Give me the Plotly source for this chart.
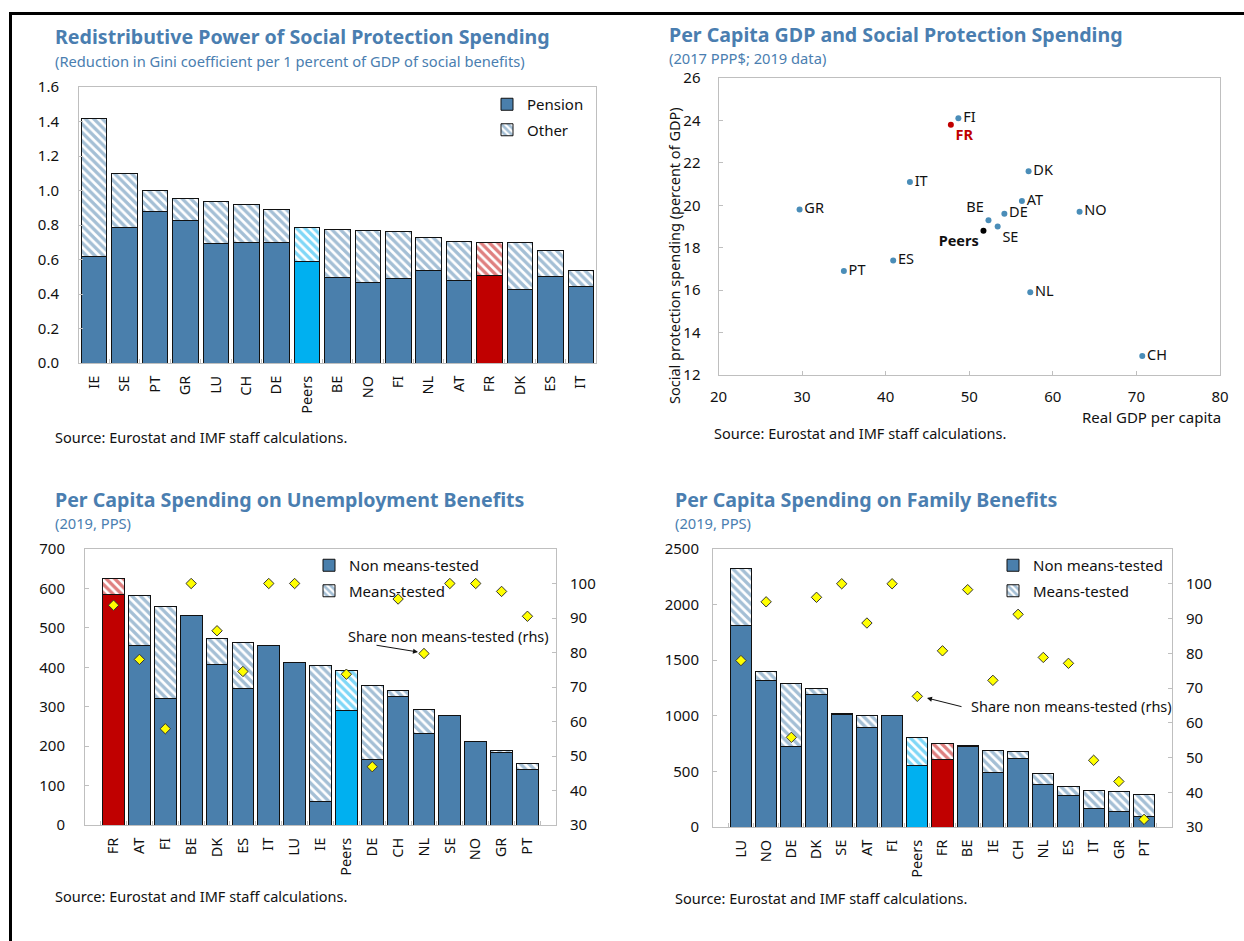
import plotly.graph_objects as go

W, H = 1244, 941

BLUE = "#4A7FAC"
PEER = "#00B0F0"
FRC = "#C00000"
DOT = "#4A8DB8"
TITLE_C = "#4A7EB0"
FONT = "Segoe UI, Noto Sans, sans-serif"

# ── data ─────────────────────────────────────────────────────────────────
gini_cty = ["IE", "SE", "PT", "GR", "LU", "CH", "DE", "Peers", "BE",
            "NO", "FI", "NL", "AT", "FR", "DK", "ES", "IT"]
gini_pension = [0.617, 0.785, 0.879, 0.827, 0.694, 0.700, 0.700, 0.590, 0.493,
                0.466, 0.490, 0.536, 0.480, 0.507, 0.426, 0.499, 0.445]
gini_other = [0.798, 0.312, 0.121, 0.129, 0.245, 0.216, 0.189, 0.198, 0.280,
              0.305, 0.270, 0.193, 0.222, 0.191, 0.272, 0.151, 0.089]

sc_cty = ["FI", "FR", "DK", "IT", "AT", "GR", "NO", "DE", "BE", "SE",
          "Peers", "ES", "PT", "NL", "CH"]
sc_gdp = [48.7, 47.8, 57.1, 42.9, 56.3, 29.7, 63.2, 54.2, 52.3, 53.4,
          51.7, 40.9, 35.0, 57.3, 70.7]
sc_spend = [24.1, 23.8, 21.6, 21.1, 20.2, 19.8, 19.7, 19.6, 19.3, 19.0,
            18.8, 17.4, 16.9, 15.9, 12.9]
sc_pos = ["middle right", "bottom right", "middle right", "middle right",
          "middle right", "middle right", "middle right", "middle right",
          "top left", "bottom right", "bottom left", "middle right",
          "middle right", "middle right", "middle right"]

un_cty = ["FR", "AT", "FI", "BE", "DK", "ES", "IT", "LU", "IE", "Peers",
          "DE", "CH", "NL", "SE", "NO", "GR", "PT"]
un_non = [585, 456, 320, 532, 408, 345, 454, 413, 60, 290,
          167, 325, 233, 277, 211, 183, 141]
un_means = [41, 127, 235, 0, 64, 117, 0, 0, 344, 101,
            188, 16, 59, 0, 0, 5, 15]
un_share = [93.7, 78.0, 57.9, 100, 86.3, 74.5, 100, 100, 14.8, 73.7,
            46.9, 95.5, 79.7, 100, 100, 97.7, 90.5]

fam_cty = ["LU", "NO", "DE", "DK", "SE", "AT", "FI", "Peers", "FR",
           "BE", "IE", "CH", "NL", "ES", "IT", "GR", "PT"]
fam_non = [1813, 1319, 720, 1196, 1015, 895, 1006, 554, 608,
           723, 494, 620, 386, 280, 166, 139, 90]
fam_means = [512, 76, 572, 48, 3, 108, 0, 253, 145,
             12, 193, 58, 96, 81, 165, 177, 202]
fam_share = [77.9, 94.8, 55.8, 96.1, 100, 88.7, 100, 67.6, 80.7,
             98.3, 72.2, 91.2, 78.8, 77.1, 49.2, 43.1, 32.2]


# ── helpers ──────────────────────────────────────────────────────────────
def px(x):
    return x / W


def py(y):
    return 1 - y / H


def _col(c):
    return FRC if c == "FR" else PEER if c == "Peers" else BLUE


def _hatch(fg):
    return dict(shape="\\", fgcolor=fg, bgcolor="white", size=6, solidity=0.55)


def stacked(cty, base, top, xa, ya):
    cols = [_col(c) for c in cty]
    line = dict(color="#111111", width=1)
    return [
        go.Bar(x=cty, y=base, marker=dict(color=cols, line=line),
               xaxis=xa, yaxis=ya, showlegend=False),
        go.Bar(x=cty, y=top, marker=dict(color="white", line=line, pattern=_hatch(cols)),
               xaxis=xa, yaxis=ya, showlegend=False),
    ]


def legend_items(names, legend, xa, ya):
    line = dict(color="#111111", width=1)
    return [
        go.Bar(x=[None], y=[None], name=names[0], legend=legend, legendgroup=legend + "a",
               marker=dict(color=BLUE, line=line), xaxis=xa, yaxis=ya),
        go.Bar(x=[None], y=[None], name=names[1], legend=legend, legendgroup=legend + "b",
               marker=dict(color="white", line=line, pattern=_hatch(BLUE)),
               xaxis=xa, yaxis=ya),
    ]


def share_dots(cty, share, xa, ya):
    return go.Scatter(x=cty, y=share, mode="markers", xaxis=xa, yaxis=ya, showlegend=False,
                      marker=dict(symbol="diamond", size=8, color="#FFFF00",
                                  line=dict(color="#333333", width=1)))


def _xcat(x0, x1, anchor):
    return dict(domain=[px(x0), px(x1)], anchor=anchor, type="category", automargin=False,
                tickangle=-90, ticks="inside", tickson="boundaries", ticklen=4,
                tickcolor="#BFBFBF", showline=True, linecolor="#BFBFBF", mirror=True,
                showgrid=False, ticklabelstandoff=6, tickfont=dict(size=14.5, color="#111"))


def _y(y0, y1, anchor, rng, dtick, fmt=None, standoff=14):
    d = dict(domain=[py(y1), py(y0)], anchor=anchor, range=rng, dtick=dtick, automargin=False,
             ticks="inside", ticklen=4, tickcolor="#BFBFBF", showline=True,
             linecolor="#BFBFBF", mirror=True, showgrid=False, zeroline=False,
             ticklabelstandoff=standoff, tickfont=dict(size=15, color="#111"))
    if fmt:
        d["tickformat"] = fmt
    return d


def _yright(overlay, anchor):
    return dict(overlaying=overlay, anchor=anchor, side="right", range=[30, 110],
                tickvals=[30, 40, 50, 60, 70, 80, 90, 100], ticks="inside", ticklen=4,
                tickcolor="#BFBFBF", showline=True, linecolor="#BFBFBF", automargin=False,
                showgrid=False, zeroline=False, ticklabelstandoff=10,
                tickfont=dict(size=15, color="#111"))


def text(x, y, s, size=14, color="#111", bold=False, **kw):
    return dict(xref="paper", yref="paper", x=px(x), y=py(y), text=f"<b>{s}</b>" if bold else s,
                showarrow=False, xanchor=kw.pop("xanchor", "left"), yanchor="middle",
                font=dict(size=size, color=color, family=FONT), **kw)


# ── traces ───────────────────────────────────────────────────────────────
fig = go.Figure()
fig.add_traces(stacked(gini_cty, gini_pension, gini_other, "x", "y"))
fig.add_traces(legend_items(["Pension", "Other"], "legend", "x", "y"))

sc_text = [f"<b>{c}</b>" if c in ("FR", "Peers") else c for c in sc_cty]
sc_col = [FRC if c == "FR" else "#000000" if c == "Peers" else DOT for c in sc_cty]
sc_tcol = [FRC if c == "FR" else "#111" for c in sc_cty]
fig.add_trace(go.Scatter(
    x=sc_gdp, y=sc_spend, text=sc_text, mode="markers+text", textposition=sc_pos,
    marker=dict(size=6, color=sc_col), textfont=dict(size=14.5, color=sc_tcol, family=FONT),
    xaxis="x2", yaxis="y2", showlegend=False, cliponaxis=False,
))

fig.add_traces(stacked(un_cty, un_non, un_means, "x3", "y3"))
fig.add_traces(legend_items(["Non means-tested", "Means-tested"], "legend2", "x3", "y3"))
fig.add_trace(share_dots(un_cty, un_share, "x3", "y5"))

fig.add_traces(stacked(fam_cty, fam_non, fam_means, "x4", "y4"))
fig.add_traces(legend_items(["Non means-tested", "Means-tested"], "legend3", "x4", "y4"))
fig.add_trace(share_dots(fam_cty, fam_share, "x4", "y6"))

# ── layout ───────────────────────────────────────────────────────────────
leg = dict(yanchor="top", xanchor="left", bgcolor="rgba(0,0,0,0)",
           font=dict(size=15, color="#111", family=FONT), traceorder="grouped",
           tracegroupgap=3, itemwidth=30)

SRC = "Source: Eurostat and IMF staff calculations."
annotations = [
    text(53, 37, "Redistributive Power of Social Protection Spending", 19.6, TITLE_C, True),
    text(53, 61, "(Reduction in Gini coefficient per 1 percent of GDP of social benefits)", 14.7, TITLE_C),
    text(53, 437, SRC, 14.5),

    text(667, 34, "Per Capita GDP and Social Protection Spending", 19.6, TITLE_C, True),
    text(667, 58, "(2017 PPP$; 2019 data)", 14.7, TITLE_C),
    text(712, 433, SRC, 14.5),
    text(1223, 417, "Real GDP per capita", 15, xanchor="right"),
    dict(xref="paper", yref="paper", x=px(674), y=py(256), textangle=-90, showarrow=False,
         text="Social protection spending (percent of GDP)", xanchor="center", yanchor="middle",
         font=dict(size=14.5, color="#111", family=FONT)),

    text(53, 499, "Per Capita Spending on Unemployment Benefits", 19.6, TITLE_C, True),
    text(53, 523, "(2019, PPS)", 14.7, TITLE_C),
    text(53, 896, SRC, 14.5),
    text(448, 636, "Share non means-tested (rhs)", 14.5, xanchor="center"),
    dict(xref="paper", yref="paper", x=px(418), y=py(652), ax=-43, ay=-7, text="",
         showarrow=True, arrowhead=2, arrowsize=1, arrowwidth=1, arrowcolor="#111"),

    text(673, 499, "Per Capita Spending on Family Benefits", 19.6, TITLE_C, True),
    text(673, 523, "(2019, PPS)", 14.7, TITLE_C),
    text(673, 898, SRC, 14.5),
    text(1071, 706, "Share non means-tested (rhs)", 14.5, xanchor="center"),
    dict(xref="paper", yref="paper", x=px(927), y=py(698), ax=36, ay=9, text="",
         showarrow=True, arrowhead=2, arrowsize=1, arrowwidth=1, arrowcolor="#111"),
]

shapes = [
    dict(type="line", xref="paper", yref="paper", x0=px(9), x1=1, y0=py(13.5), y1=py(13.5),
         line=dict(color="black", width=3)),
    dict(type="line", xref="paper", yref="paper", x0=px(10.5), x1=px(10.5), y0=py(12), y1=0,
         line=dict(color="black", width=3)),
]

fig.update_layout(
    width=W, height=H, margin=dict(l=0, r=0, t=0, b=0, pad=0, autoexpand=False),
    paper_bgcolor="white", plot_bgcolor="white",
    font=dict(family=FONT, color="#111"),
    barmode="stack", bargap=0.16,
    xaxis=_xcat(79, 596, "y"),
    yaxis=_y(87, 363, "x", [0, 1.6], 0.2, ".1f", 16),
    xaxis2=dict(domain=[px(718.5), px(1220)], anchor="y2", range=[20, 80], dtick=10,
                ticks="inside", ticklen=4, tickcolor="#BFBFBF", showline=True, automargin=False,
                linecolor="#BFBFBF", mirror=True, showgrid=False, zeroline=False,
                ticklabelstandoff=8, tickfont=dict(size=15, color="#111")),
    yaxis2=_y(78, 375, "x2", [12, 26], 2, None, 14),
    xaxis3=_xcat(85, 556, "y3"),
    yaxis3=_y(549, 825, "x3", [0, 700], 100, None, 16),
    yaxis5=_yright("y3", "x3"),
    xaxis4=_xcat(713, 1172, "y4"),
    yaxis4=_y(549, 827, "x4", [0, 2500], 500, None, 10),
    yaxis6=_yright("y4", "x4"),
    legend=dict(leg, x=px(487), y=py(88)),
    legend2=dict(leg, x=px(309), y=py(549)),
    legend3=dict(leg, x=px(993), y=py(549)),
    annotations=annotations,
    shapes=shapes,
)

fig.write_html("out.html", config={"displayModeBar": False},
               post_script="document.body.style.margin='0';document.body.style.overflow='hidden';")
